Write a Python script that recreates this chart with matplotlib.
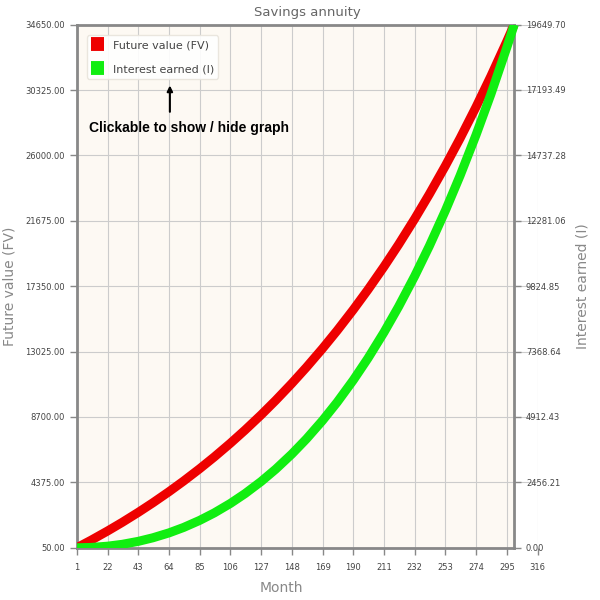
import matplotlib.pyplot as plt
from matplotlib.patches import Rectangle

months = [1, 11, 22, 32, 43, 53, 64, 74, 85, 95, 106, 116, 127, 137, 148, 158,
          169, 179, 190, 200, 211, 221, 232, 242, 253, 263, 274, 284, 295, 300]
future_value = [50, 564, 1160, 1730, 2392, 3026, 3760, 4464, 5280, 6061,
                6967, 7835, 8840, 9804, 10921, 11991, 13231, 14419, 15796, 17115,
                18644, 20109, 21807, 23434, 25319, 27126, 29219, 31225, 33550, 34650]
interest = [0, 14, 60, 130, 242, 376, 560, 764, 1030, 1311,
            1667, 2035, 2490, 2954, 3521, 4091, 4781, 5469, 6296, 7115,
            8094, 9059, 10207, 11334, 12669, 13976, 15519, 17025, 18800, 19649.7]

x_ticks = [1, 22, 43, 64, 85, 106, 127, 148, 169, 190, 211, 232, 253, 274, 295, 316]
fv_ticks = [50, 4375, 8700, 13025, 17350, 21675, 26000, 30325, 34650]
int_ticks = [0.00, 2456.21, 4912.43, 7368.64, 9824.85, 12281.06, 14737.28, 17193.49, 19649.70]

grey = '#888888'
txt = '#444444'
bg = '#fdf9f3'

fig = plt.figure(figsize=(6, 6), dpi=100)
ax = fig.add_axes([0.128, 0.087, 0.768, 0.872])
ax.set_facecolor('none')
ax2 = ax.twinx()

# cream background only over the data range
ax.add_patch(Rectangle((1, 50), 299, 34600, facecolor=bg, edgecolor='none', zorder=0))

ax.set_xlim(1, 316)
ax.set_ylim(50, 34650)
ax2.set_ylim(0, 19649.70)

l1, = ax.plot(months, future_value, color='#ee0000', lw=6.5, solid_capstyle='butt',
              solid_joinstyle='round', label='Future value (FV)', zorder=3)
l2, = ax2.plot(months, interest, color='#11ee11', lw=6.5, solid_capstyle='butt',
               solid_joinstyle='round', label='Interest earned (I)', zorder=3)

ax.set_xticks(x_ticks)
ax.set_yticks(fv_ticks)
ax2.set_yticks(int_ticks)
ax.set_xticklabels([str(v) for v in x_ticks])
ax.set_yticklabels(['%.2f' % v for v in fv_ticks])
ax2.set_yticklabels(['%.2f' % v for v in int_ticks])

ax.grid(True, color='#cccccc', lw=0.8)
for a in (ax, ax2):
    for s in a.spines.values():
        s.set_color(grey)
        s.set_linewidth(2)
    a.spines['right'].set_position(('data', 300))
    a.tick_params(labelsize=6, colors=grey, labelcolor=txt, length=5, width=1)
ax.spines['top'].set_bounds(1, 300)
ax.spines['bottom'].set_bounds(1, 300)
ax.spines['right'].set_visible(False)
ax2.spines['left'].set_visible(False)
ax2.spines['top'].set_visible(False)
ax2.spines['bottom'].set_visible(False)
ax.tick_params(axis='x', pad=6)

ax.set_title('Savings annuity', fontsize=9.5, color='#666666', pad=6)
ax.set_xlabel('Month', fontsize=10, color='#888888')
ax.set_ylabel('Future value (FV)', fontsize=10, color='#888888')
ax2.set_ylabel('Interest earned (I)', fontsize=10, color='#888888')
ax.xaxis.set_label_coords(0.445, -0.063)
ax.yaxis.set_label_coords(-0.13, 0.5)
ax2.yaxis.set_label_coords(1.082, 0.5)

leg = ax2.legend(handles=[l1, l2], loc='upper left', bbox_to_anchor=(0.01, 0.99),
                 fontsize=8, handlelength=1.1, handleheight=1.1, labelspacing=1.1,
                 frameon=True, fancybox=True, framealpha=0.9, edgecolor='#e8e4dc')
for h in leg.legend_handles:
    h.set_linewidth(10)
for t in leg.get_texts():
    t.set_color('#444444')

ax2.annotate('', xy=(0.202, 0.889), xytext=(0.202, 0.828), xycoords='axes fraction',
             arrowprops=dict(arrowstyle='-|>', color='black', lw=1.5, mutation_scale=8))
ax2.text(0.027, 0.795, 'Clickable to show / hide graph', transform=ax2.transAxes,
         fontsize=10, fontweight='bold', color='black', family='Liberation Sans')

fig.savefig('out.png', dpi=100)
